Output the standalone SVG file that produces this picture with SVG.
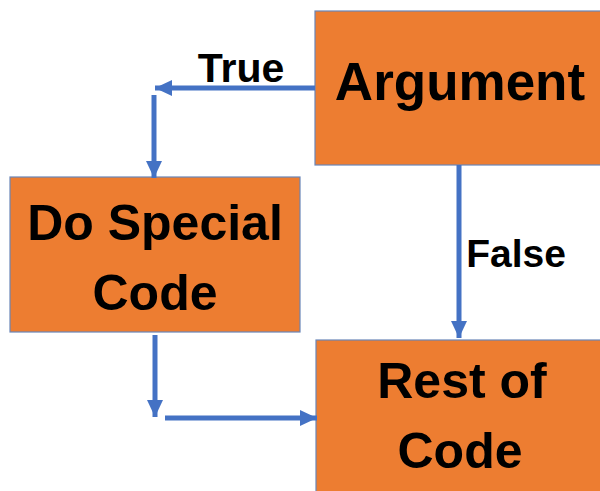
<svg xmlns="http://www.w3.org/2000/svg" width="600" height="491" viewBox="0 0 600 491">
<style>
.box{fill:#ED7D31;stroke:#6a86b8;stroke-width:1.2}
.t{font-family:"Liberation Sans",Arial,sans-serif;font-weight:bold;fill:#000;text-anchor:middle}
.c{stroke:#4472C4;stroke-width:5;fill:none}
</style>
<defs>
<marker id="ah" markerUnits="userSpaceOnUse" markerWidth="18" markerHeight="18" refX="17" refY="8" orient="auto">
<path d="M0,0 L17,8 L0,16 z" fill="#4472C4"/>
</marker>
</defs>
<rect width="600" height="491" fill="#fff"/>
<g id="argument">
<rect class="box" x="315" y="11" width="290" height="154"/>
<text class="t" x="460" y="100" font-size="53">Argument</text>
</g>
<g id="do-special-code">
<rect class="box" x="10" y="177" width="290" height="155"/>
<text class="t" x="155" y="240" font-size="50">Do Special</text>
<text class="t" x="155" y="310" font-size="50">Code</text>
</g>
<g id="rest-of-code">
<rect class="box" x="316" y="340" width="290" height="160"/>
<text class="t" x="462" y="398" font-size="50">Rest of</text>
<text class="t" x="460" y="468" font-size="50">Code</text>
</g>
<g id="connectors">
<line class="c" x1="315" y1="88" x2="155" y2="88" marker-end="url(#ah)"/>
<line class="c" x1="154" y1="95" x2="154" y2="178" marker-end="url(#ah)"/>
<line class="c" x1="155" y1="335" x2="155" y2="417" marker-end="url(#ah)"/>
<line class="c" x1="165" y1="418" x2="317" y2="418" marker-end="url(#ah)"/>
<line class="c" x1="459" y1="165" x2="459" y2="338" marker-end="url(#ah)"/>
<text class="t" x="241" y="82" font-size="41">True</text>
<text class="t" x="516" y="267" font-size="39">False</text>
</g>
</svg>
